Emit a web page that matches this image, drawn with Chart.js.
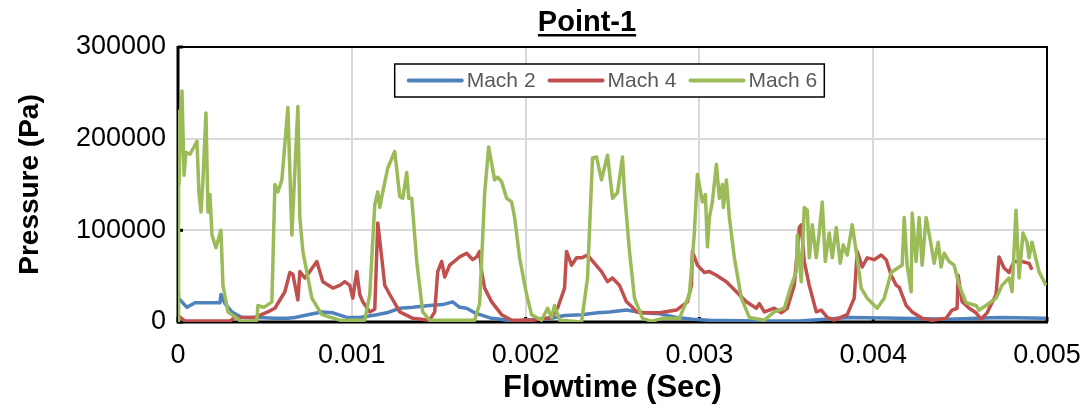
<!DOCTYPE html>
<html><head><meta charset="utf-8">
<script src="https://cdn.jsdelivr.net/npm/chart.js@4.4.1/dist/chart.umd.min.js"></script>
<style>html,body{margin:0;padding:0;background:#fff;}canvas{display:block;}</style>
</head><body>
<canvas id="c" width="1086" height="412"></canvas>
<script>
const chartTitle = 'Point-1';
const xAxisTitle = 'Flowtime (Sec)';
const yAxisTitle = 'Pressure (Pa)';
const xTickLabels = ['0', '0.001', '0.002', '0.003', '0.004', '0.005'];
const yTickLabels = ['0', '100000', '200000', '300000'];
const seriesNames = ['Mach 2', 'Mach 4', 'Mach 6'];
const seriesColors = ['#4F81BD', '#C0504D', '#9BBB59'];

// Flow time in milliseconds (converted to seconds for the axis)
const mach2TimeMs = [0, 0.003, 0.0517, 0.0977, 0.2414, 0.2471, 0.2701, 0.3103, 0.3678, 0.4598, 0.5575, 0.6322, 0.6724, 0.7471, 0.8276, 0.8908, 0.9713, 1.0460, 1.1437, 1.2011, 1.2759, 1.3506, 1.4483, 1.5230, 1.5805, 1.6207, 1.6609, 1.7069, 1.8046, 1.9368, 2.0690, 2.1494, 2.2241, 2.3218, 2.4138, 2.4828, 2.5805, 2.6724, 2.7701, 2.8678, 2.9598, 3.0575, 3.3276, 3.5747, 3.8621, 4.1494, 4.4368, 4.7241, 4.9943];
const mach2Pressure = [33000, 26000, 16000, 21000, 21000, 30000, 20000, 11000, 5000, 5000, 4000, 4000, 5000, 8000, 11000, 10000, 5000, 5000, 8000, 10000, 15000, 16000, 18000, 19000, 22000, 16000, 15000, 10000, 4000, 1000, 3000, 4000, 7000, 8000, 10000, 11000, 13000, 10000, 9000, 5000, 3000, 2000, 1000, 1000, 5000, 4000, 3000, 5000, 4000];

const mach4TimeMs = [0, 0.0057, 0.0402, 0.2989, 0.3276, 0.4425, 0.5172, 0.5575, 0.6149, 0.6437, 0.6609, 0.6897, 0.7011, 0.7299, 0.7471, 0.7989, 0.8333, 0.8908, 0.9310, 0.9598, 0.9885, 1.0057, 1.0287, 1.0460, 1.0632, 1.1034, 1.1322, 1.1494, 1.1724, 1.1897, 1.2184, 1.2759, 1.3506, 1.4483, 1.4770, 1.4943, 1.5172, 1.5345, 1.5632, 1.6207, 1.6609, 1.6954, 1.7184, 1.7356, 1.7471, 1.7644, 1.8046, 1.8621, 1.9195, 2.0345, 2.1494, 2.1839, 2.2241, 2.2356, 2.2644, 2.2931, 2.3218, 2.3563, 2.3966, 2.4368, 2.4713, 2.5000, 2.5402, 2.5805, 2.6149, 2.6379, 2.6954, 2.7701, 2.8678, 2.9310, 2.9540, 2.9598, 2.9885, 3.0287, 3.0575, 3.0977, 3.1552, 3.2126, 3.2701, 3.3276, 3.3448, 3.3736, 3.4310, 3.4713, 3.5057, 3.5460, 3.5747, 3.5862, 3.6034, 3.6322, 3.6724, 3.7011, 3.7356, 3.7759, 3.8506, 3.8908, 3.9080, 3.9368, 3.9655, 4.0057, 4.0460, 4.0747, 4.1034, 4.1322, 4.1494, 4.1897, 4.2241, 4.2816, 4.3391, 4.4195, 4.4540, 4.4828, 4.4885, 4.5115, 4.5517, 4.5920, 4.6207, 4.6552, 4.7069, 4.7241, 4.7529, 4.7816, 4.8103, 4.8563, 4.8966, 4.9138];
const mach4Pressure = [4000, 6000, 1000, 1000, 5000, 5000, 11000, 15000, 33000, 54000, 52000, 24000, 55000, 48000, 52000, 66000, 44000, 37000, 40000, 44000, 40000, 26000, 55000, 30000, 22000, 11000, 14000, 108000, 70000, 40000, 30000, 11000, 4000, 2000, 11000, 55000, 66000, 49000, 62000, 71000, 75000, 68000, 71000, 77000, 55000, 37000, 22000, 8000, 2000, 2000, 5000, 15000, 37000, 77000, 62000, 70000, 70000, 73000, 64000, 55000, 44000, 48000, 40000, 22000, 16000, 11000, 10000, 10000, 13000, 22000, 40000, 77000, 62000, 54000, 55000, 51000, 44000, 33000, 22000, 15000, 20000, 11000, 15000, 10000, 15000, 40000, 103000, 106000, 66000, 40000, 11000, 13000, 5000, 2000, 8000, 26000, 77000, 60000, 70000, 68000, 73000, 68000, 51000, 40000, 38000, 18000, 11000, 4000, 2000, 4000, 13000, 15000, 51000, 22000, 15000, 10000, 3000, 10000, 30000, 71000, 59000, 54000, 66000, 66000, 64000, 57000];

const mach6TimeMs = [0, 0.003, 0.006, 0.012, 0.0230, 0.0345, 0.0460, 0.0690, 0.1092, 0.1207, 0.1322, 0.1437, 0.1609, 0.1724, 0.1839, 0.1954, 0.2184, 0.2471, 0.2586, 0.2874, 0.3678, 0.4540, 0.4598, 0.4943, 0.5402, 0.5575, 0.5747, 0.5977, 0.6322, 0.6552, 0.6897, 0.7011, 0.7184, 0.7701, 0.8276, 0.9310, 1.0747, 1.1034, 1.1322, 1.1494, 1.1609, 1.1782, 1.2069, 1.2471, 1.2759, 1.2931, 1.3161, 1.3276, 1.3448, 1.3736, 1.4080, 1.4483, 1.7069, 1.7356, 1.7644, 1.7874, 1.8218, 1.8391, 1.8621, 1.8908, 1.9195, 1.9368, 1.9655, 2.0057, 2.0345, 2.0920, 2.1264, 2.1494, 2.1667, 2.1954, 2.3218, 2.3563, 2.3851, 2.4080, 2.4368, 2.4713, 2.5000, 2.5287, 2.5575, 2.5690, 2.5977, 2.6264, 2.6724, 2.7241, 2.7874, 2.8851, 2.9425, 2.9713, 2.9885, 3.0172, 3.0345, 3.0460, 3.0575, 3.0747, 3.0977, 3.1149, 3.1322, 3.1379, 3.1552, 3.1724, 3.2011, 3.2414, 3.2874, 3.3736, 3.4310, 3.4885, 3.5287, 3.5575, 3.5632, 3.5862, 3.6034, 3.6207, 3.6322, 3.6494, 3.6724, 3.6897, 3.7069, 3.7241, 3.7471, 3.7644, 3.7874, 3.8103, 3.8276, 3.8506, 3.8793, 3.9023, 3.9310, 3.9655, 4.0230, 4.0632, 4.1034, 4.1494, 4.1667, 4.1782, 4.1954, 4.2184, 4.2241, 4.2471, 4.2644, 4.2816, 4.3046, 4.3333, 4.3506, 4.3736, 4.3908, 4.4080, 4.4368, 4.4655, 4.4943, 4.5345, 4.5920, 4.6092, 4.6494, 4.7069, 4.7414, 4.7816, 4.7989, 4.8218, 4.8391, 4.8621, 4.8851, 4.8966, 4.9138, 4.9540, 4.9943];
const mach6Pressure = [0, 230000, 150000, 200000, 252000, 160000, 185000, 183000, 197000, 140000, 120000, 155000, 228000, 120000, 139000, 95000, 81000, 100000, 40000, 11000, 0, 2000, 18000, 16000, 22000, 150000, 142000, 155000, 234000, 95000, 235000, 114000, 77000, 26000, 8000, 2000, 2000, 30000, 128000, 142000, 125000, 142000, 168000, 186000, 137000, 135000, 163000, 135000, 135000, 66000, 11000, 2000, 2000, 20000, 140000, 191000, 155000, 158000, 153000, 135000, 131000, 114000, 70000, 30000, 8000, 2000, 15000, 5000, 18000, 2000, 0, 48000, 179000, 180000, 155000, 182000, 135000, 141000, 180000, 142000, 77000, 26000, 4000, 1000, 4000, 4000, 30000, 98000, 161000, 131000, 139000, 82000, 114000, 131000, 172000, 135000, 150000, 125000, 155000, 114000, 70000, 26000, 5000, 2000, 11000, 15000, 40000, 55000, 95000, 44000, 125000, 122000, 70000, 106000, 70000, 98000, 131000, 66000, 97000, 70000, 103000, 64000, 84000, 73000, 106000, 77000, 37000, 26000, 15000, 26000, 54000, 60000, 62000, 114000, 62000, 33000, 119000, 66000, 114000, 62000, 114000, 84000, 64000, 87000, 60000, 75000, 66000, 62000, 40000, 21000, 18000, 13000, 18000, 26000, 40000, 48000, 33000, 122000, 48000, 97000, 87000, 70000, 87000, 55000, 40000];

const seriesTimes = [mach2TimeMs, mach4TimeMs, mach6TimeMs];
const seriesValues = [mach2Pressure, mach4Pressure, mach6Pressure];

const FONT = '"Liberation Sans", Arial, sans-serif';

const datasets = seriesNames.map((name, i) => ({
  label: name,
  data: seriesTimes[i].map((t, j) => ({ x: t / 1000, y: seriesValues[i][j] })),
  borderColor: seriesColors[i],
  backgroundColor: seriesColors[i],
  borderWidth: 3.5,
  pointRadius: 0,
  tension: 0,
  borderJoinStyle: 'round',
  order: seriesNames.length - 1 - i
}));

const framePlugin = {
  id: 'frame',
  beforeDatasetsDraw(chart) {
    const { ctx, chartArea: a } = chart;
    ctx.save();
    ctx.strokeStyle = '#000';
    ctx.lineWidth = 2;
    ctx.beginPath();
    ctx.moveTo(a.left, a.top); ctx.lineTo(a.right, a.top); ctx.lineTo(a.right, a.bottom);
    ctx.stroke();
    ctx.lineWidth = 3;
    ctx.beginPath();
    ctx.moveTo(a.left, a.top - 1); ctx.lineTo(a.left, a.bottom); ctx.lineTo(a.right + 1, a.bottom);
    ctx.stroke();
    ctx.fillStyle = '#000';
    const xs = chart.scales.x, ys = chart.scales.y;
    xs.ticks.forEach(t => { const px = xs.getPixelForValue(t.value); ctx.fillRect(px - 1.5, a.bottom - 5, 3, 5); });
    ys.ticks.forEach(t => { const py = ys.getPixelForValue(t.value); ctx.fillRect(a.left, py - 1.5, 5, 3); });
    ctx.restore();
  },
  afterDraw(chart) {
    const { ctx } = chart;
    ctx.save();
    ctx.font = 'bold 29px ' + FONT;
    ctx.fillStyle = '#000';
    ctx.textAlign = 'center';
    ctx.textBaseline = 'alphabetic';
    const tx = 587, ty = 31;
    ctx.fillText(chartTitle, tx, ty);
    const tw = ctx.measureText(chartTitle).width;
    ctx.fillRect(tx - tw / 2, ty + 3, tw, 2.5);
    ctx.font = '21px ' + FONT;
    const lineLen = 53, gap = 5, itemGap = 14, padL = 14, padR = 7;
    const widths = seriesNames.map(n => ctx.measureText(n).width);
    let total = padL + padR;
    widths.forEach((w, i) => { total += lineLen + gap + w + (i > 0 ? itemGap : 0); });
    const cx = 609.5, top = 64, h = 33;
    const left = cx - total / 2;
    ctx.fillStyle = '#fff';
    ctx.fillRect(left, top, total, h);
    ctx.strokeStyle = '#000';
    ctx.lineWidth = 1.5;
    ctx.strokeRect(left, top, total, h);
    let x = left + padL;
    const my = top + h / 2;
    ctx.textAlign = 'left';
    ctx.textBaseline = 'middle';
    seriesNames.forEach((n, i) => {
      ctx.strokeStyle = seriesColors[i];
      ctx.lineWidth = 4;
      ctx.lineCap = 'round';
      ctx.beginPath(); ctx.moveTo(x, my); ctx.lineTo(x + lineLen, my); ctx.stroke();
      x += lineLen + gap;
      ctx.fillStyle = '#595959';
      ctx.fillText(n, x, my + 1);
      x += widths[i] + itemGap;
    });
    ctx.restore();
  }
};

new Chart(document.getElementById('c'), {
  type: 'line',
  data: { datasets },
  options: {
    responsive: false,
    devicePixelRatio: 1,
    animation: false,
    events: [],
    layout: { padding: { top: 47, right: 39, left: 0, bottom: 0 } },
    plugins: { legend: { display: false }, title: { display: false }, tooltip: { enabled: false } },
    scales: {
      x: {
        type: 'linear', min: 0, max: 0.005,
        afterBuildTicks: s => { s.ticks = xTickLabels.map(v => ({ value: Number(v) })); },
        afterFit: s => { s.height = 90; s.paddingLeft = 0; s.paddingRight = 0; },
        grid: { color: '#d9d9d9', lineWidth: 2, drawTicks: false },
        border: { display: false },
        ticks: { color: '#000', padding: 17, maxRotation: 0, autoSkip: false,
                 font: { family: FONT, size: 27 },
                 callback: (v, i) => xTickLabels[i] },
        title: { display: true, text: xAxisTitle, color: '#000',
                 font: { family: FONT, size: 31, weight: 'bold' }, padding: { top: 0, bottom: 5 } }
      },
      y: {
        type: 'linear', min: 0, max: 300000,
        afterBuildTicks: s => { s.ticks = yTickLabels.map(v => ({ value: Number(v) })); },
        afterFit: s => { s.width = 178; s.paddingTop = 0; s.paddingBottom = 0; },
        grid: { color: '#d9d9d9', lineWidth: 2, drawTicks: false },
        border: { display: false },
        ticks: { color: '#000', padding: 12, font: { family: FONT, size: 27 },
                 callback: (v, i) => yTickLabels[i] },
        title: { display: true, text: yAxisTitle, color: '#000',
                 font: { family: FONT, size: 28, weight: 'bold' }, padding: { top: 13, bottom: 0 } }
      }
    }
  },
  plugins: [framePlugin]
});
</script>
</body></html>
